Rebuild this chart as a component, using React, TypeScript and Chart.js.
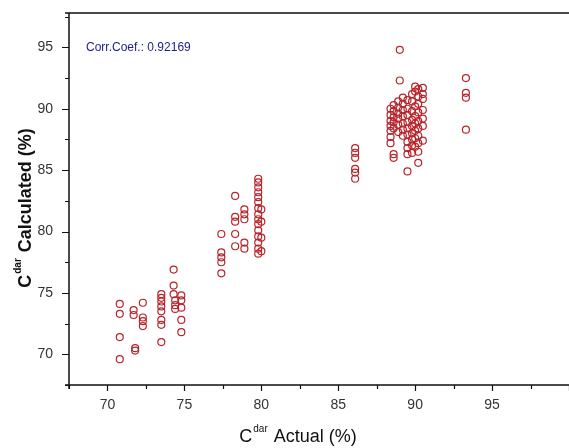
import React, { useEffect, useRef } from "react";
import { Chart, registerables } from "chart.js";

Chart.register(...registerables);

// Cluster columns: actual value (x) and calculated values (y)
const colX_A = [70.8, 71.7, 71.8, 72.3, 73.5, 74.3, 74.4, 74.8];
const colY_A = [
  [74.1, 73.3, 71.4, 69.6],
  [73.6, 73.2],
  [70.5, 70.3],
  [74.2, 73.0, 72.7, 72.3],
  [74.9, 74.6, 74.3, 73.9, 73.5, 72.8, 72.4, 71.0],
  [76.9, 75.6, 74.9],
  [74.4, 74.0, 73.7],
  [74.8, 74.4, 73.8, 72.8, 71.8],
];

const colX_B = [77.4, 78.3, 78.9, 79.8, 80.0];
const colY_B = [
  [79.8, 78.3, 77.9, 77.5, 76.6],
  [82.9, 81.2, 80.8, 79.8, 78.8],
  [81.8, 81.4, 81.0, 79.1, 78.6],
  [84.3, 84.0, 83.6, 83.2, 82.8, 82.4, 81.9, 81.4, 81.0, 80.6, 80.1, 79.6, 79.1, 78.6, 78.2],
  [81.8, 80.8, 79.5, 78.4],
];

const colX_C = [86.1];
const colY_C = [[86.8, 86.4, 86.0, 85.1, 84.8, 84.3]];

const colX_D = [89.0, 88.4, 88.6, 88.9, 89.2, 89.5, 89.8, 90.0, 90.2, 90.5];
const colY_D = [
  [94.8, 92.3],
  [90.0, 89.5, 89.0, 88.6, 88.2, 87.7, 87.2],
  [90.3, 89.8, 89.3, 88.9, 88.4, 86.3, 86.0],
  [90.6, 90.1, 89.6, 89.2, 88.7, 88.1],
  [90.9, 90.4, 89.9, 89.4, 88.8, 88.3, 87.8],
  [90.7, 90.0, 89.5, 88.9, 88.4, 87.9, 87.3, 86.8, 86.3, 84.9],
  [91.2, 90.6, 89.8, 89.1, 88.6, 88.0, 87.5, 87.0, 86.4],
  [91.8, 91.4, 90.2, 89.4, 88.8, 88.2, 87.6, 86.9],
  [91.6, 91.0, 90.4, 89.7, 89.0, 88.4, 87.8, 87.2, 86.5, 85.6],
  [91.7, 91.2, 90.8, 89.9, 89.2, 88.6, 87.4],
];

const colX_E = [93.3];
const colY_E = [[92.5, 91.3, 90.9, 88.3]];

const xTickLabels = [70, 75, 80, 85, 90, 95];
const yTickLabels = [70, 75, 80, 85, 90, 95];
const corrText = "Corr.Coef.: 0.92169";

function buildPoints() {
  const pts: { x: number; y: number }[] = [];
  const groups: [number[], number[][]][] = [
    [colX_A, colY_A],
    [colX_B, colY_B],
    [colX_C, colY_C],
    [colX_D, colY_D],
    [colX_E, colY_E],
  ];
  groups.forEach(([xs, ys]) => {
    xs.forEach((x, i) => ys[i].forEach((y) => pts.push({ x, y })));
  });
  return pts;
}

const FONT = "'Liberation Sans', Arial, sans-serif";

function drawSupText(
  ctx: CanvasRenderingContext2D,
  cx: number,
  cy: number,
  base: string,
  sup: string,
  rest: string,
  weight: string,
  size: number
) {
  const f = `${weight} ${size}px ${FONT}`;
  const fs = `${weight} ${Math.round(size * 0.55)}px ${FONT}`;
  ctx.font = f;
  const w1 = ctx.measureText(base).width;
  const w3 = ctx.measureText(rest).width;
  ctx.font = fs;
  const w2 = ctx.measureText(sup).width + 2;
  const total = w1 + w2 + w3;
  let x = cx - total / 2;
  ctx.textBaseline = "middle";
  ctx.textAlign = "left";
  ctx.font = f;
  ctx.fillText(base, x, cy);
  x += w1 + 1;
  ctx.font = fs;
  ctx.fillText(sup, x, cy - size * 0.45);
  x += w2 - 1;
  ctx.font = f;
  ctx.fillText(rest, x, cy);
}

const axesPlugin = {
  id: "axesPlugin",
  afterDraw(chart: any) {
    const { ctx, chartArea } = chart;
    const xs = chart.scales.x;
    const ys = chart.scales.y;
    const { left, right, top, bottom } = chartArea;
    ctx.save();
    // top frame line
    ctx.strokeStyle = "#4a4a4a";
    ctx.lineWidth = 2;
    ctx.beginPath();
    ctx.moveTo(left - 4, top);
    ctx.lineTo(right, top);
    ctx.stroke();
    // left and bottom axes
    ctx.strokeStyle = "#111";
    ctx.lineWidth = 1.5;
    ctx.beginPath();
    ctx.moveTo(left, top);
    ctx.lineTo(left, bottom + 4);
    ctx.moveTo(left - 4, bottom);
    ctx.lineTo(right, bottom);
    ctx.stroke();
    // ticks
    ctx.lineWidth = 1.2;
    ctx.beginPath();
    for (let v = xs.min; v <= xs.max + 1e-6; v += 2.5) {
      const px = Math.round(xs.getPixelForValue(v)) + 0.5;
      const major = Math.abs(v % 5) < 1e-6;
      ctx.moveTo(px, bottom);
      ctx.lineTo(px, bottom + (major ? 6 : 4));
    }
    for (let v = ys.min; v <= ys.max + 1e-6; v += 2.5) {
      const py = Math.round(ys.getPixelForValue(v)) + 0.5;
      const major = Math.abs(v % 5) < 1e-6;
      ctx.moveTo(left, py);
      ctx.lineTo(left - (major ? 7 : 4), py);
    }
    ctx.stroke();
    // titles
    ctx.fillStyle = "#111";
    drawSupText(ctx, 298, 437, "C", "dar", " Actual (%)", "normal", 18);
    ctx.save();
    ctx.translate(26, 208);
    ctx.rotate(-Math.PI / 2);
    drawSupText(ctx, 0, 0, "C", "dar", " Calculated (%)", "bold", 18);
    ctx.restore();
    // annotation
    ctx.fillStyle = "#1c1c8a";
    ctx.font = `12px ${FONT}`;
    ctx.textAlign = "left";
    ctx.textBaseline = "middle";
    ctx.fillText(corrText, 86, ys.getPixelForValue(95));
    ctx.restore();
  },
};

export default function App() {
  const ref = useRef<HTMLCanvasElement>(null);
  useEffect(() => {
    if (!ref.current) return;
    const chart = new Chart(ref.current, {
      type: "scatter",
      data: {
        datasets: [
          {
            data: buildPoints(),
            pointStyle: "circle",
            pointRadius: 3.5,
            pointBorderWidth: 1.2,
            borderColor: "#b8242a",
            backgroundColor: "rgba(255,255,255,0)",
          },
        ],
      },
      options: {
        animation: false,
        responsive: false,
        devicePixelRatio: 1,
        layout: { autoPadding: false, padding: { top: 13, right: 0, left: 0, bottom: 0 } },
        plugins: { legend: { display: false }, tooltip: { enabled: false } },
        scales: {
          x: {
            type: "linear",
            min: 67.5,
            max: 100,
            afterFit: (s: any) => {
              s.height = 63;
              s.paddingLeft = 0;
              s.paddingRight = 0;
            },
            grid: { display: false, drawTicks: false },
            border: { display: false },
            ticks: {
              stepSize: 2.5,
              autoSkip: false,
              maxRotation: 0,
              padding: 12,
              color: "#333",
              font: { size: 14, family: FONT },
              callback: (v: any) => (xTickLabels.includes(Number(v)) ? String(v) : ""),
            },
          },
          y: {
            type: "linear",
            min: 67.5,
            max: 97.8,
            afterFit: (s: any) => {
              s.width = 69;
              s.paddingTop = 0;
              s.paddingBottom = 0;
            },
            grid: { display: false, drawTicks: false },
            border: { display: false },
            ticks: {
              stepSize: 2.5,
              autoSkip: false,
              padding: 16,
              color: "#333",
              font: { size: 14, family: FONT },
              callback: (v: any) => (yTickLabels.includes(Number(v)) ? String(v) : ""),
            },
          },
        },
      },
      plugins: [axesPlugin],
    });
    return () => chart.destroy();
  }, []);
  return (
    <div style={{ position: "fixed", left: 0, top: 0, width: 569, height: 448, background: "#fff" }}>
      <canvas ref={ref} width={569} height={448} />
    </div>
  );
}
